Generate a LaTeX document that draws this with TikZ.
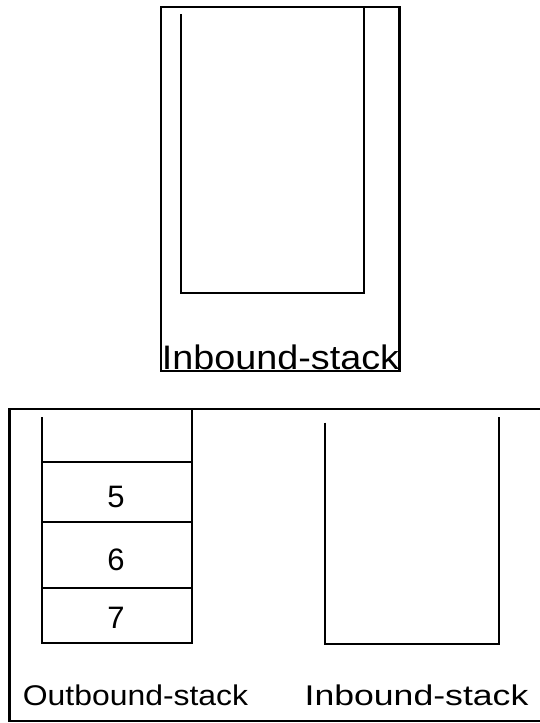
\documentclass[tikz,border=0pt]{standalone}
\usepackage{fontspec}
\setmainfont{Liberation Sans}
\begin{document}
\begin{tikzpicture}[x=1pt,y=-1pt,
  frame/.style={draw=black,line width=2.2pt},
  wall/.style={draw=black,line width=2pt},
  lbl/.style={anchor=base,inner sep=0pt,font=\fontsize{28.5}{30}\selectfont},
  digit/.style={anchor=base,inner sep=0pt,font=\fontsize{31}{33}\selectfont},
  biglbl/.style={anchor=base,inner sep=0pt,font=\fontsize{34}{36}\selectfont}]
\useasboundingbox (0,0) rectangle (540,723);
% top box
\draw[frame] (161,7) rectangle (399.5,371);
\draw[wall] (181,14) -- (181,292.5) -- (363.5,292.5) -- (363.5,7);
\node[biglbl,xscale=1.11] (toplabel) at (280.5,369) {Inbound-stack};
% bottom box
\draw[frame] (9.5,409) rectangle (541,721);
% outbound stack
\draw[wall] (41.6,417) -- (41.6,643.3) -- (191.7,643.3) -- (191.7,409);
\draw[wall] (41.6,462) -- (191.7,462);
\draw[wall] (41.6,522) -- (191.7,522);
\draw[wall] (41.6,587.7) -- (191.7,587.7);
\node[digit] (n5) at (116,507) {5};
\node[digit] (n6) at (116,570) {6};
\node[digit] (n7) at (116,628) {7};
% inbound stack
\draw[wall] (324.5,422.7) -- (324.5,644) -- (499,644) -- (499,417);
\node[lbl,xscale=1.12] (outlabel) at (135.5,705) {Outbound-stack};
\node[lbl,xscale=1.25] (inlabel) at (416.5,705) {Inbound-stack};
\end{tikzpicture}
\end{document}
